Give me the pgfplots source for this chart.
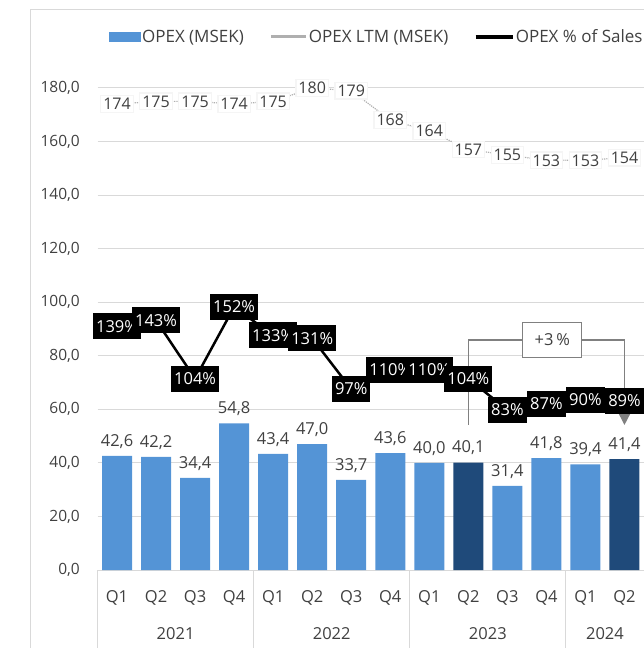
\documentclass[border=0pt]{standalone}
\usepackage{pgfplots}
\pgfplotsset{compat=1.18}
\usetikzlibrary{arrows.meta}
\usepackage{fontspec}
\setmainfont{Open Sans}
\definecolor{barblue}{RGB}{84,148,214}
\definecolor{bardark}{RGB}{31,74,122}
\definecolor{txt}{RGB}{64,64,64}
\definecolor{gridc}{RGB}{217,217,217}
\definecolor{ltm}{RGB}{175,175,175}
\definecolor{annot}{RGB}{128,128,128}
\newcommand{\fs}[1]{\fontsize{#1}{#1}\selectfont}
\pgfplotsset{
  barlab/.style={nodes near coords={\pgfmathprintnumber[fixed,fixed zerofill,precision=1,use comma,assume math mode=true]{\pgfplotspointmeta}},
    every node near coord/.append style={anchor=south, yshift=4pt, font=\fs{16.5}, text=txt}},
  geom/.style={at={(97.5pt,78pt)}, anchor=south west, scale only axis, width=546.5pt, height=482pt,
    xmin=-0.5, xmax=13.5, enlargelimits=false, clip=false}
}
\begin{document}
\begin{tikzpicture}[x=1pt,y=1pt]
\useasboundingbox (0,0) rectangle (644,648);
\draw[gridc, line width=1pt] (30,-5) -- (30,638) -- (650,638);
\begin{axis}[geom,
  ymin=0, ymax=180,
  axis line style={draw=none}, tick style={draw=none},
  ymajorgrids, grid style={gridc, line width=1pt},
  ytick={0,20,...,180},
  yticklabel style={font=\fs{15.5}, text=txt, anchor=east, inner sep=0pt, xshift=-17.5pt,
     /pgf/number format/.cd, fixed, fixed zerofill, precision=1, use comma, assume math mode=true},
  xtick={0,...,13},
  xticklabels={Q1,Q2,Q3,Q4,Q1,Q2,Q3,Q4,Q1,Q2,Q3,Q4,Q1,Q2},
  xticklabel style={font=\fs{16.5}, text=txt, anchor=center, yshift=-28pt},
]
\addplot[ybar, bar width=30pt, bar shift=0pt, fill=barblue, draw=none, barlab] coordinates {
 (0,42.6) (1,42.2) (2,34.4) (3,54.8) (4,43.4) (5,47.0) (6,33.7) (7,43.6)
 (8,40.0) (10,31.4) (11,41.8) (12,39.4)};
\addplot[ybar, bar width=30pt, bar shift=0pt, fill=bardark, draw=none, barlab] coordinates {
 (9,40.1) (13,41.4)};
\addplot[ltm, line width=1.2pt, densely dotted, mark=none, nodes near coords,
  every node near coord/.append style={anchor=center, fill=white, draw=gray!8, solid, inner sep=2.5pt,
    font=\fs{16}, text=txt, /pgf/number format/assume math mode=true}] coordinates {
 (0,174) (1,175) (2,175) (3,174) (4,175) (5,180) (6,179) (7,168) (8,164) (9,157)
 (10,155) (11,153) (12,153) (13,154)};
\foreach \s in {-0.5,3.5,7.5,11.5} {
  \edef\tmp{\noexpand\draw[gridc, line width=1pt] (axis cs:\s,0) -- ([yshift=-80pt]axis cs:\s,0);}\tmp
}
\node[font=\fs{16.5}, text=txt] at ([yshift=-64pt]axis cs:1.5,0) {2021};
\node[font=\fs{16.5}, text=txt] at ([yshift=-64pt]axis cs:5.5,0) {2022};
\node[font=\fs{16.5}, text=txt] at ([yshift=-64pt]axis cs:9.5,0) {2023};
\node[font=\fs{16.5}, text=txt] at ([yshift=-64pt]axis cs:12.5,0) {2024};
\end{axis}
\begin{axis}[geom, ymin=-24.2, ymax=298.7, hide axis,
  legend style={at={(0.021,1.1058)}, anchor=west, legend columns=3, draw=none, fill=none,
    font=\fs{17}, text=txt, inner sep=0pt, nodes={inner sep=1.5pt},
    /tikz/every even column/.append style={column sep=24pt}},
]
\addlegendimage{legend image code/.code={\fill[barblue] (0pt,-4.5pt) rectangle (31pt,4.5pt);}}
\addlegendentry{OPEX (MSEK)}
\addlegendimage{legend image code/.code={\draw[ltm,line width=3pt] (0pt,0pt) -- (35pt,0pt);}}
\addlegendentry{OPEX LTM (MSEK)}
\addplot[black, line width=2.5pt, mark=none,
  legend image code/.code={\draw[black,line width=3.5pt] (0pt,0pt) -- (37pt,0pt);},
  nodes near coords={\pgfmathprintnumber[fixed,precision=0,assume math mode=true]{\pgfplotspointmeta}\%},
  every node near coord/.append style={anchor=center, fill=black, text=white, font=\fs{16.5},
    inner xsep=3pt, inner ysep=0pt, minimum height=26pt}] coordinates {
 (0,139) (1,143) (2,104) (3,152) (4,133) (5,131) (6,97) (7,110) (8,110) (9,104)
 (10,83) (11,87) (12,90) (13,89)};
\addlegendentry{OPEX \% of Sales}
\draw[annot, line width=1.5pt, -{Triangle[width=12pt,length=12pt]}]
  (axis cs:9,72.95) -- (axis cs:9,129.9) -- (axis cs:13,129.9) -- (axis cs:13,72.95);
\node[fill=white, draw=annot, line width=1pt, minimum width=59pt, minimum height=35pt,
  font=\fs{16.5}, text=txt] at (axis cs:11.15,129.9) {+3\,\%};
\end{axis}
\end{tikzpicture}
\end{document}
